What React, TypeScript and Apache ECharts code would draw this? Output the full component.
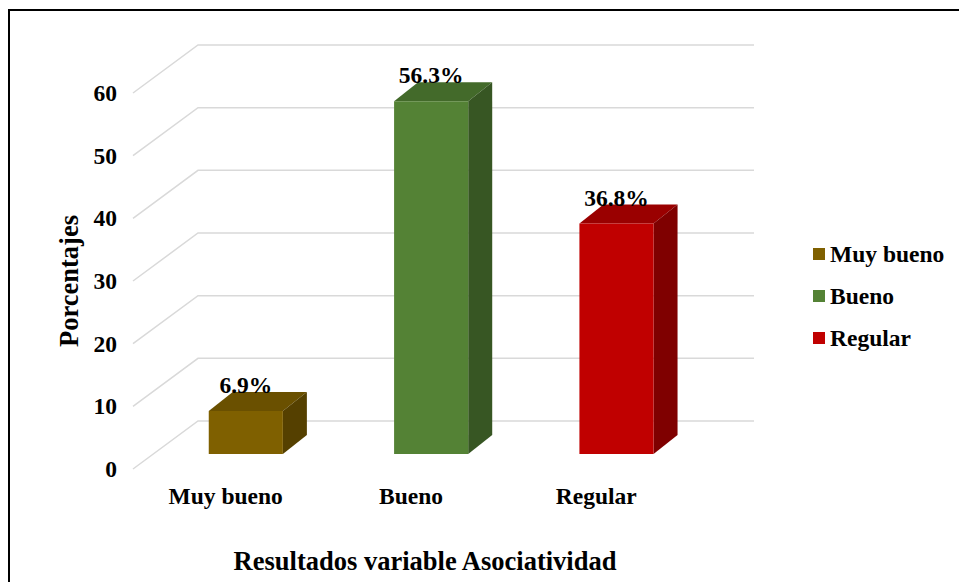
import React, { useEffect, useRef } from "react";
import * as echarts from "echarts";

const categories = ["Muy bueno", "Bueno", "Regular"];
const values = [6.9, 56.3, 36.8];
const yTicks = [0, 10, 20, 30, 40, 50, 60];
const yAxisTitle = "Porcentajes";
const xAxisTitle = "Resultados variable Asociatividad";

const palette = [
  { front: "#7F6000", top: "#6A5000", side: "#554000" },
  { front: "#548235", top: "#436A2A", side: "#375623" },
  { front: "#C00000", top: "#9A0000", side: "#7F0000" },
];

const FONT = "'Times New Roman', 'Liberation Serif', serif";
const WALL_DX = 65;
const WALL_DY = 48;
const BAR_DEPTH_POS = 0.31;
const BAR_DX = 24;
const BAR_DY = 19;

export default function App() {
  const ref = useRef<HTMLDivElement>(null);
  useEffect(() => {
    if (!ref.current) return;
    const chart = echarts.init(ref.current, null, { renderer: "svg" });

    const gridSeries: any = {
      type: "custom",
      name: "grid",
      silent: true,
      clip: false,
      z: 1,
      data: yTicks.map((v) => [0, v]),
      renderItem: (params: any, api: any) => {
        const cs = params.coordSys;
        const y = api.coord([0, api.value(1)])[1];
        const x0 = cs.x;
        const x1 = cs.x + cs.width;
        return {
          type: "polyline",
          shape: {
            points: [
              [x0, y],
              [x0 + WALL_DX, y - WALL_DY],
              [x1 + WALL_DX, y - WALL_DY],
            ],
          },
          style: { stroke: "#D9D9D9", lineWidth: 1.5, fill: "none" },
        };
      },
    };

    const barSeries = categories.map((name, i) => ({
      type: "custom",
      name,
      clip: false,
      z: 3,
      itemStyle: { color: palette[i].front },
      data: [[i, values[i]]],
      renderItem: (params: any, api: any) => {
        const ci = api.value(0);
        const v = api.value(1);
        const band = api.size([1, 0])[0];
        const p0 = api.coord([ci, 0]);
        const p1 = api.coord([ci, v]);
        const fx = BAR_DEPTH_POS * WALL_DX;
        const fy = BAR_DEPTH_POS * WALL_DY;
        const w = band * 0.4;
        const xl = p0[0] + fx - w / 2;
        const xr = xl + w;
        const yb = p0[1] - fy;
        const yt = p1[1] - fy;
        const c = palette[i];
        return {
          type: "group",
          children: [
            {
              type: "polygon",
              shape: {
                points: [
                  [xl, yt],
                  [xr, yt],
                  [xr + BAR_DX, yt - BAR_DY],
                  [xl + BAR_DX, yt - BAR_DY],
                ],
              },
              style: { fill: c.top },
            },
            {
              type: "polygon",
              shape: {
                points: [
                  [xr, yb],
                  [xr, yt],
                  [xr + BAR_DX, yt - BAR_DY],
                  [xr + BAR_DX, yb - BAR_DY],
                ],
              },
              style: { fill: c.side },
            },
            {
              type: "rect",
              shape: { x: xl, y: yt, width: w, height: yb - yt },
              style: { fill: c.front },
            },
            {
              type: "text",
              x: xl + w / 2,
              y: yt - BAR_DY - 7,
              style: {
                text: v.toFixed(1) + "%",
                align: "center",
                verticalAlign: "middle",
                fill: "#000",
                font: `bold 23.5px ${FONT}`,
              },
            },
          ],
        };
      },
    }));

    chart.setOption({
      animation: false,
      backgroundColor: "#fff",
      grid: {
        left: 133,
        top: 93,
        width: 556,
        height: 376,
        outerBoundsMode: "none",
      },
      legend: {
        data: categories,
        orient: "vertical",
        left: 808,
        top: 236,
        icon: "rect",
        itemWidth: 12,
        itemHeight: 12,
        itemGap: 16,
        textStyle: {
          fontSize: 23.5,
          fontWeight: "bold",
          fontFamily: FONT,
          color: "#000",
          lineHeight: 26,
        },
      },
      xAxis: {
        type: "category",
        data: categories,
        axisLine: { show: false },
        axisTick: { show: false },
        axisLabel: {
          margin: 15,
          fontSize: 23.5,
          fontWeight: "bold",
          fontFamily: FONT,
          color: "#000",
        },
      },
      yAxis: {
        type: "value",
        min: 0,
        max: 60,
        interval: 10,
        axisLine: { show: false },
        axisTick: { show: false },
        splitLine: { show: false },
        axisLabel: {
          margin: 16,
          fontSize: 23.5,
          fontWeight: "bold",
          fontFamily: FONT,
          color: "#000",
        },
        name: yAxisTitle,
        nameLocation: "middle",
        nameRotate: 90,
        nameGap: 47,
        nameTextStyle: {
          fontSize: 26.5,
          fontWeight: "bold",
          fontFamily: FONT,
          color: "#000",
        },
      },
      graphic: [
        {
          type: "rect",
          z: 100,
          silent: true,
          shape: { x: 9, y: 10, width: 1200, height: 1200 },
          style: { fill: "none", stroke: "#000", lineWidth: 2 },
        },
        {
          type: "text",
          x: 425,
          y: 561,
          style: {
            text: xAxisTitle,
            align: "center",
            verticalAlign: "middle",
            fill: "#000",
            font: `bold 26.5px ${FONT}`,
          },
        },
      ],
      series: [gridSeries, ...barSeries],
    });
    return () => chart.dispose();
  }, []);
  return (
    <div
      ref={ref}
      style={{ position: "absolute", left: 0, top: 0, width: 959, height: 582, background: "#fff" }}
    />
  );
}
